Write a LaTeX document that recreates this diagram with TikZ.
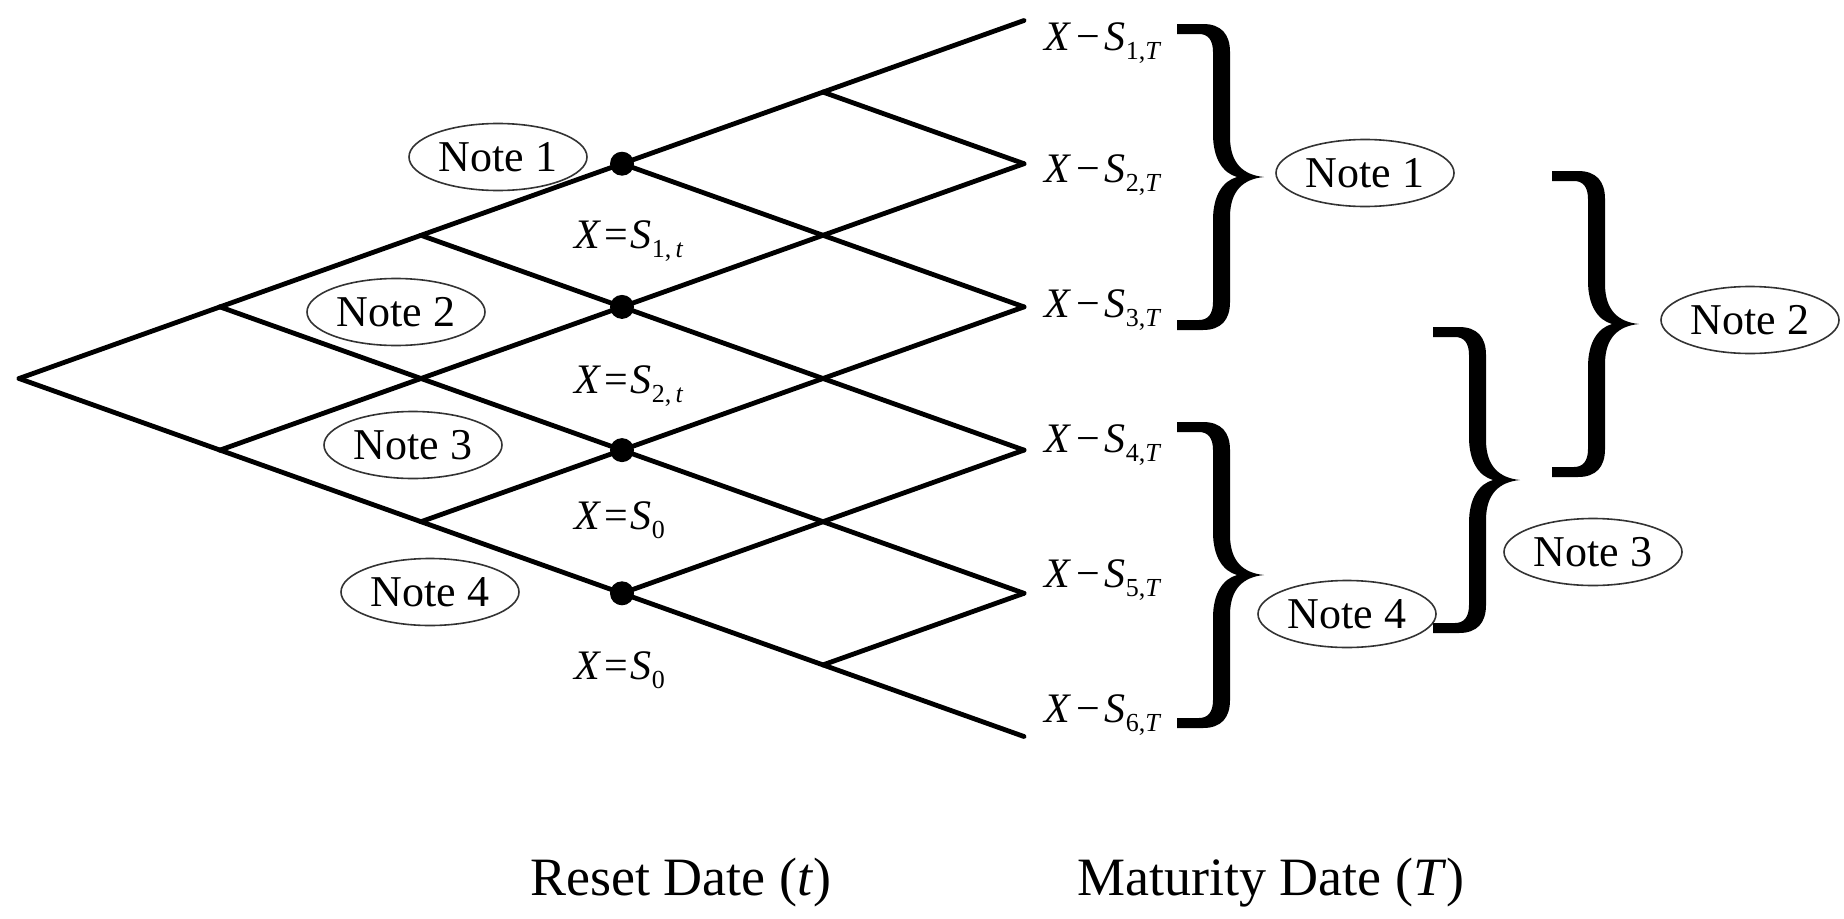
\documentclass[tikz,border=0pt]{standalone}
\usepackage{fontspec}
\setmainfont{Liberation Serif}
\usetikzlibrary{shapes.geometric}
\newcommand{\sbs}[1]{\raisebox{-9pt}{\fontsize{26}{26}\selectfont #1}}
\tikzset{
  notebox/.style={ellipse, draw=black!80, line width=1.6pt, minimum width=178pt, minimum height=67pt, inner sep=0pt, font=\fontsize{44}{50}\selectfont},
  lattice/.style={line width=4.8pt, line cap=round, line join=round},
  payoff/.style={anchor=base west, inner sep=0pt, font=\fontsize{42}{48}\selectfont},
  strike/.style={anchor=base west, inner sep=0pt, font=\fontsize{42}{48}\selectfont},
  axislabel/.style={anchor=base west, inner sep=0pt, font=\fontsize{54}{60}\selectfont},
  resetdot/.style={circle, fill=black, minimum size=24pt, inner sep=0pt},
  bracepic/.pic={
    \fill[black] (0,0) -- (26,0) .. controls (44,0) and (53,10) .. (53,28)
      -- (53,113) .. controls (53,139) and (66,151) .. (87,153)
      .. controls (66,155) and (53,167) .. (53,193)
      -- (53,278) .. controls (53,296) and (44,306) .. (26,306)
      -- (0,306) -- (0,296) -- (22,296) .. controls (31,296) and (36,290) .. (36,278)
      -- (36,196) .. controls (36,171) and (46,157) .. (60,153)
      .. controls (46,149) and (36,135) .. (36,110)
      -- (36,28) .. controls (36,16) and (31,10) .. (22,10) -- (0,10) -- cycle;
  }
}
\begin{document}
\begin{tikzpicture}[x=1pt, y=-1pt]
\fill[white] (0,0) rectangle (1844,918);
\useasboundingbox (0,0) rectangle (1844,918);

% lattice coordinates
\foreach \k in {0,...,5}{
  \foreach \j in {0,...,\k}{
    \coordinate (n\k\j) at ({19+201*\k}, {378.5+71.6*(2*\j-\k)});
  }
}
% lattice edges
\foreach \k in {0,...,4}{
  \foreach \j in {0,...,\k}{
    \pgfmathtruncatemacro\kk{\k+1}
    \pgfmathtruncatemacro\jj{\j+1}
    \draw[lattice] (n\k\j) -- (n\kk\j);
    \draw[lattice] (n\k\j) -- (n\kk\jj);
  }
}
% reset date dots
\node[resetdot] (d0) at (n30) {};
\node[resetdot] (d1) at (n31) {};
\node[resetdot] (d2) at (n32) {};
\node[resetdot] (d3) at (n33) {};

% strike labels
\node[strike] (k1) at (574,248) {\textit{X}\kern3pt=\kern3pt\textit{S}\sbs{1,\,\textit{t}}};
\node[strike] (k2) at (574,393) {\textit{X}\kern3pt=\kern3pt\textit{S}\sbs{2,\,\textit{t}}};
\node[strike] (k3) at (574,529) {\textit{X}\kern3pt=\kern3pt\textit{S}\sbs{0}};
\node[strike] (k4) at (574,679) {\textit{X}\kern3pt=\kern3pt\textit{S}\sbs{0}};

% payoff labels
\node[payoff] (p1) at (1044,50)  {\textit{X}\kern5pt−\kern5pt\textit{S}\sbs{1,\textit{T}}};
\node[payoff] (p2) at (1044,182) {\textit{X}\kern5pt−\kern5pt\textit{S}\sbs{2,\textit{T}}};
\node[payoff] (p3) at (1044,317) {\textit{X}\kern5pt−\kern5pt\textit{S}\sbs{3,\textit{T}}};
\node[payoff] (p4) at (1044,452) {\textit{X}\kern5pt−\kern5pt\textit{S}\sbs{4,\textit{T}}};
\node[payoff] (p5) at (1044,587) {\textit{X}\kern5pt−\kern5pt\textit{S}\sbs{5,\textit{T}}};
\node[payoff] (p6) at (1044,722) {\textit{X}\kern5pt−\kern5pt\textit{S}\sbs{6,\textit{T}}};

% left notes
\node[notebox] (ln1) at (498,157) {Note 1};
\node[notebox] (ln2) at (396,312) {Note 2};
\node[notebox] (ln3) at (413,445) {Note 3};
\node[notebox] (ln4) at (430,592) {Note 4};

% braces
\pic at (1177,24)  {bracepic};
\pic at (1552,171) {bracepic};
\pic at (1433,327) {bracepic};
\pic at (1177,422) {bracepic};

% right notes
\node[notebox] (rn1) at (1365,173) {Note 1};
\node[notebox] (rn2) at (1750,320) {Note 2};
\node[notebox] (rn3) at (1593,552) {Note 3};
\node[notebox] (rn4) at (1347,614) {Note 4};

% axis labels
\node[axislabel] (reset) at (530,895) {Reset Date (\textit{t})};
\node[axislabel] (mat) at (1077,895) {Maturity Date (\textit{T})};
\end{tikzpicture}
\end{document}
